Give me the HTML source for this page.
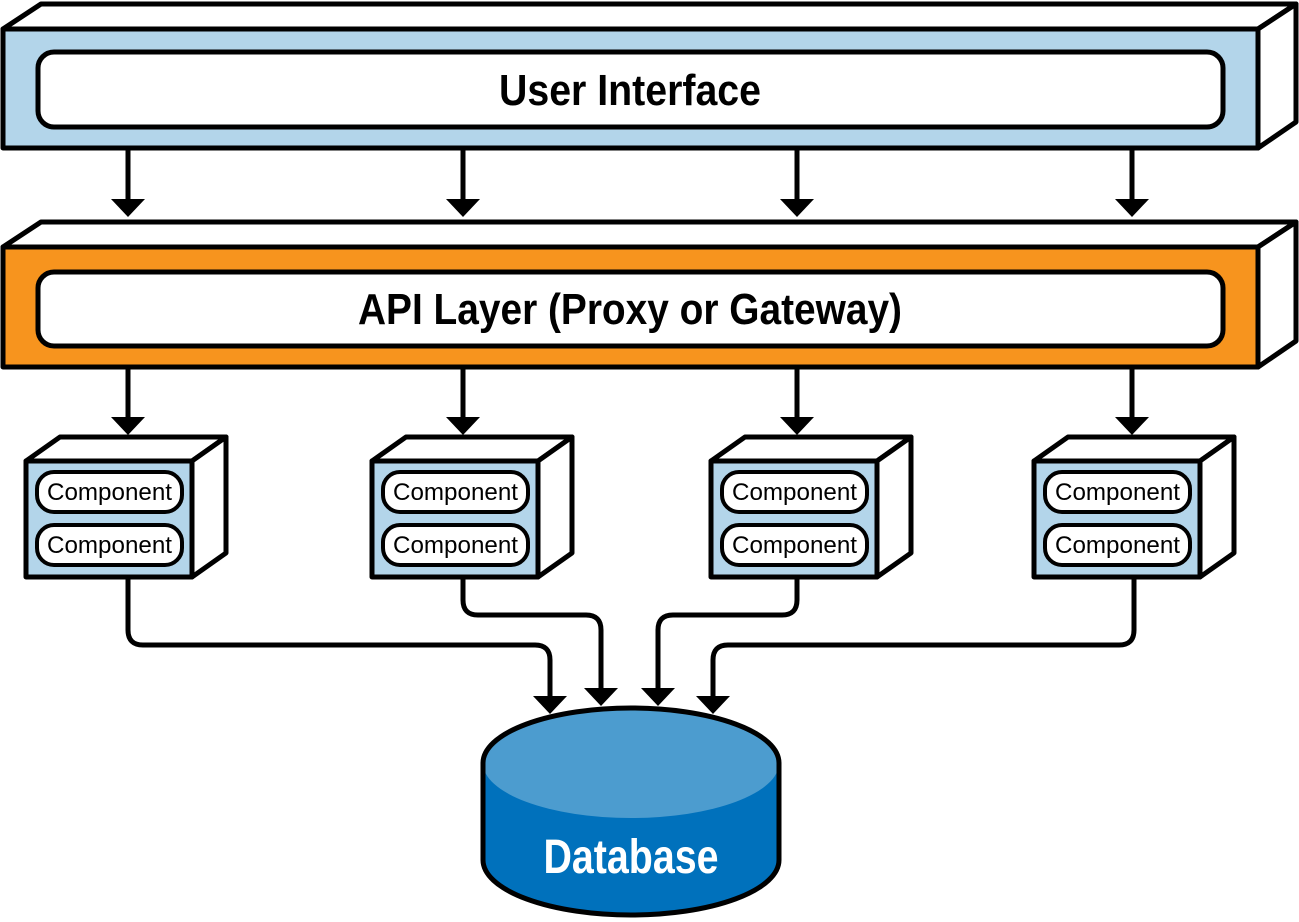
<!DOCTYPE html>
<html><head><meta charset="utf-8"><style>html,body{margin:0;padding:0;background:#fff}svg{display:block}</style></head>
<body>
<svg width="1299" height="922" viewBox="0 0 1299 922" xmlns="http://www.w3.org/2000/svg" font-family="'Liberation Sans', sans-serif" font-weight="bold">
<defs>
<marker id="ah" markerWidth="10" markerHeight="10" refX="0" refY="0" overflow="visible"></marker>
</defs>
<g stroke="#000" stroke-width="5" stroke-linejoin="round">
<!-- top box -->
<polygon points="3,29 41,4 1296,4 1258,29" fill="#fff"/>
<polygon points="1258,29 1296,4 1296,122 1258,148" fill="#fff"/>
<rect x="3" y="29" width="1255" height="119" fill="#b3d5ea"/>
<rect x="38" y="52" width="1185" height="75" rx="16" fill="#fff"/>
<!-- api box -->
<polygon points="3,247 41,222 1296,222 1258,247" fill="#fff"/>
<polygon points="1258,247 1296,222 1296,341 1258,367" fill="#fff"/>
<rect x="3" y="247" width="1255" height="120" fill="#f7941e"/>
<rect x="38" y="272" width="1185" height="74" rx="16" fill="#fff"/>
</g>
<text x="630" y="105" text-anchor="middle" font-size="44" textLength="262" lengthAdjust="spacingAndGlyphs">User Interface</text>
<text x="630" y="324" text-anchor="middle" font-size="44" textLength="544" lengthAdjust="spacingAndGlyphs">API Layer (Proxy or Gateway)</text>
<!-- arrows top -->
<g stroke="#000" stroke-width="5" fill="none">
<path d="M128 150V202M463 150V202M797 150V202M1132 150V202"/>
<path d="M128 368V420M463 368V420M797 368V420M1132 368V420"/>
<path d="M128 577V630Q128 645 143 645H535Q550 645 550 660V698"/>
<path d="M463 577V600Q463 615 478 615H586Q601 615 601 630V690"/>
<path d="M797 577V600Q797 615 782 615H673Q658 615 658 630V690"/>
<path d="M1134 577V630Q1134 645 1119 645H728Q713 645 713 660V698"/>
</g>
<g fill="#000">
<polygon points="111,199 145,199 128,217"/><polygon points="446,199 480,199 463,217"/><polygon points="780,199 814,199 797,217"/><polygon points="1115,199 1149,199 1132,217"/>
<polygon points="111,417 145,417 128,435"/><polygon points="446,417 480,417 463,435"/><polygon points="780,417 814,417 797,435"/><polygon points="1115,417 1149,417 1132,435"/>
<polygon points="533,696 567,696 550,714"/><polygon points="584,688 618,688 601,706"/><polygon points="641,688 675,688 658,706"/><polygon points="696,696 730,696 713,714"/>
</g>
<!-- components -->
<g id="c" stroke="#000" stroke-width="5" stroke-linejoin="round">
<polygon points="26,461 60,437 226,437 192,461" fill="#fff"/>
<polygon points="192,461 226,437 226,553 192,577" fill="#fff"/>
<rect x="26" y="461" width="166" height="116" fill="#b3d5ea"/>
<rect x="37" y="472" width="145" height="40" rx="17" fill="#fff" stroke-width="4"/>
<rect x="37" y="525" width="145" height="40" rx="17" fill="#fff" stroke-width="4"/>
<text x="109.5" y="500" text-anchor="middle" font-size="24" font-weight="normal" stroke="none" fill="#000" textLength="125" lengthAdjust="spacingAndGlyphs">Component</text>
<text x="109.5" y="553" text-anchor="middle" font-size="24" font-weight="normal" stroke="none" fill="#000" textLength="125" lengthAdjust="spacingAndGlyphs">Component</text>
</g>
<use href="#c" x="346"/>
<use href="#c" x="685"/>
<use href="#c" x="1008"/>
<!-- database -->
<path d="M483 763V860A148 55 0 0 0 779 860V763Z" fill="#0071bc"/>
<ellipse cx="631" cy="763" rx="148" ry="55" fill="#4c9ccf"/>
<path d="M483 763V860A148 55 0 0 0 779 860V763A148 55 0 0 0 483 763Z" fill="none" stroke="#000" stroke-width="5"/>
<text x="631" y="873" text-anchor="middle" font-size="48" fill="#fff" textLength="175" lengthAdjust="spacingAndGlyphs">Database</text>
</svg>
</body></html>
